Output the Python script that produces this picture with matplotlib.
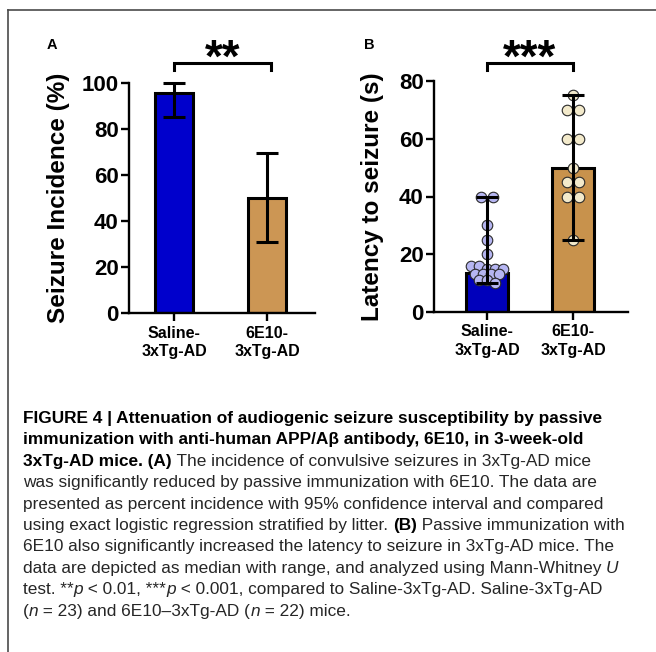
import matplotlib
matplotlib.use("Agg")
import matplotlib.pyplot as plt
from matplotlib.lines import Line2D
import numpy as np

W, H = 656, 652

# ---- data ----
groups = ["Saline-\n3xTg-AD", "6E10-\n3xTg-AD"]

incidence = [95.7, 50.0]          # % with seizures
incidence_lo = [85.2, 31.0]       # 95% CI lower
incidence_hi = [100.0, 69.5]      # 95% CI upper

latency_median = [13.5, 50.0]     # s
latency_saline = [40, 40, 30, 25, 20, 16, 16, 15, 15, 15, 13, 13, 13, 13, 11, 11, 10]
latency_6e10 = [75, 70, 70, 60, 60, 50, 45, 45, 40, 40, 25]

caption_lines = [
    [("FIGURE 4 | Attenuation of audiogenic seizure susceptibility by passive", "bold", "normal")],
    [("immunization with anti-human APP/Aβ antibody, 6E10, in 3-week-old", "bold", "normal")],
    [("3xTg-AD mice. (A)", "bold", "normal"),
     (" The incidence of convulsive seizures in 3xTg-AD mice", "normal", "normal")],
    [("was significantly reduced by passive immunization with 6E10. The data are", "normal", "normal")],
    [("presented as percent incidence with 95% confidence interval and compared", "normal", "normal")],
    [("using exact logistic regression stratified by litter. ", "normal", "normal"),
     ("(B)", "bold", "normal"), (" Passive immunization with", "normal", "normal")],
    [("6E10 also significantly increased the latency to seizure in 3xTg-AD mice. The", "normal", "normal")],
    [("data are depicted as median with range, and analyzed using Mann-Whitney ", "normal", "normal"),
     ("U", "normal", "italic")],
    [("test. **", "normal", "normal"), ("p", "normal", "italic"), (" < 0.01, ***", "normal", "normal"),
     ("p", "normal", "italic"), (" < 0.001, compared to Saline-3xTg-AD. Saline-3xTg-AD", "normal", "normal")],
    [("(", "normal", "normal"), ("n", "normal", "italic"), (" = 23) and 6E10–3xTg-AD (", "normal", "normal"),
     ("n", "normal", "italic"), (" = 22) mice.", "normal", "normal")],
]

BLUE_A, TAN_A = "#0000CC", "#CC9654"
BLUE_B, TAN_B = "#0000BB", "#C8924C"
DOT_SAL, DOT_6E = "#B6B6F2", "#F3EACB"

plt.rcParams["font.family"] = ["Liberation Sans", "DejaVu Sans"]
cap_font = "Liberation Sans"
cap_size = 12.4

fig = plt.figure(figsize=(W / 100, H / 100), dpi=100)

# frame lines of the figure box
fig.add_artist(Line2D([8 / W, 1], [1 - 10 / H] * 2, transform=fig.transFigure, color="#4a4a4a", lw=1.2))
fig.add_artist(Line2D([8 / W] * 2, [0, 1 - 10 / H], transform=fig.transFigure, color="#4a4a4a", lw=1.2))


def style_axes(ax):
    for s in ["top", "right"]:
        ax.spines[s].set_visible(False)
    for s in ["left", "bottom"]:
        ax.spines[s].set_linewidth(1.7)
    ax.tick_params(axis="y", direction="out", length=6, width=1.7, pad=1.5, labelsize=16)
    ax.tick_params(axis="x", direction="out", length=6, width=1.7, pad=3, labelsize=11.5)
    for lab in ax.get_yticklabels():
        lab.set_fontweight("bold")
    for lab in ax.get_xticklabels():
        lab.set_fontweight("bold")


# ---- panel A ----
axA = fig.add_axes([129 / W, 1 - 313 / H, 186 / W, 230 / H])
x = np.arange(len(groups))
axA.bar(x, incidence, width=0.40, color=[BLUE_A, TAN_A], edgecolor="black", linewidth=2.2, zorder=1)
yerr = [np.array(incidence) - np.array(incidence_lo), np.array(incidence_hi) - np.array(incidence)]
axA.errorbar(x, incidence, yerr=yerr, fmt="none", ecolor="black", elinewidth=2.2, capsize=8,
             capthick=2.2, zorder=3, clip_on=False)
axA.set_xlim(-0.484, 1.516)
axA.set_ylim(0, 100)
axA.set_yticks([0, 20, 40, 60, 80, 100])
axA.set_xticks(x)
axA.set_xticklabels(groups, linespacing=1.3)
style_axes(axA)
axA.text((58 - 129) / 186, 0.5, "Seizure Incidence (%)", transform=axA.transAxes, rotation=90,
         ha="center", va="center", fontsize=17.5, fontweight="bold")
axA.plot([0, 0, 1.04, 1.04], [105.6, 108.7, 108.7, 105.6], color="black", lw=2.2,
         clip_on=False, solid_joinstyle="miter")
axA.text(0.52, 104.9, "**", ha="center", va="baseline", fontsize=33, fontweight="bold")
fig.text(52 / W, 1 - 45 / H, "A", ha="center", va="center", fontsize=10.5, fontweight="bold")

# ---- panel B ----
axB = fig.add_axes([434 / W, 1 - 312 / H, 194 / W, 231 / H])
axB.bar(x, latency_median, width=0.49, color=[BLUE_B, TAN_B], edgecolor="black", linewidth=2.2, zorder=1)


def swarm_offsets(vals, row_tol=1.5, pair_gap=0.15, dense_gap=0.093):
    order = sorted(range(len(vals)), key=lambda i: -vals[i])
    rows, cur = [], [order[0]]
    for i in order[1:]:
        if vals[cur[0]] - vals[i] <= row_tol:
            cur.append(i)
        else:
            rows.append(cur)
            cur = [i]
    rows.append(cur)
    offs = np.zeros(len(vals))
    for r in rows:
        n = len(r)
        gap = pair_gap if n <= 2 else dense_gap
        for k, i in enumerate(r):
            offs[i] = (k - (n - 1) / 2) * gap
    return offs


for xi, vals, fc in [(0, latency_saline, DOT_SAL), (1, latency_6e10, DOT_6E)]:
    offs = swarm_offsets(vals)
    axB.plot(xi + offs, vals, "o", ms=7.6, mfc=fc, mec="#2a2a2a", mew=0.8, ls="none", zorder=2)
    lo, hi = min(vals), max(vals)
    med = latency_median[xi]
    axB.errorbar([xi], [med], yerr=[[med - lo], [hi - med]], fmt="none", ecolor="black",
                 elinewidth=2.2, capsize=8, capthick=2.2, zorder=3)

axB.set_xlim(-0.616, 1.64)
axB.set_ylim(0, 80)
axB.set_yticks([0, 20, 40, 60, 80])
axB.set_xticks(x)
axB.set_xticklabels(groups, linespacing=1.3)
style_axes(axB)
axB.text((372 - 434) / 194, 0.5, "Latency to seizure (s)", transform=axB.transAxes, rotation=90,
         ha="center", va="center", fontsize=17.5, fontweight="bold")
axB.plot([0, 0, 1, 1], [83.8, 86.2, 86.2, 83.8], color="black", lw=2.2,
         clip_on=False, solid_joinstyle="miter")
axB.text(0.5, 83.2, "***", ha="center", va="baseline", fontsize=33, fontweight="bold")
fig.text(369 / W, 1 - 45 / H, "B", ha="center", va="center", fontsize=10.5, fontweight="bold")

# ---- caption with mixed bold / italic runs ----
renderer = fig.canvas.get_renderer()


def run_width(s, weight, style):
    t1 = fig.text(0, 0, "x" + s + "x", family=cap_font, fontsize=cap_size, fontweight=weight, fontstyle=style)
    t2 = fig.text(0, 0, "xx", family=cap_font, fontsize=cap_size, fontweight=weight, fontstyle=style)
    w = t1.get_window_extent(renderer).width - t2.get_window_extent(renderer).width
    t1.remove()
    t2.remove()
    return w


base_y, step = 423, 21.4
for li, runs in enumerate(caption_lines):
    px = 23.0
    py = base_y + li * step
    for s, weight, style in runs:
        col = "black" if weight == "bold" else "#262626"
        fig.text(px / W, 1 - py / H, s, family=cap_font, fontsize=cap_size, fontweight=weight,
                 fontstyle=style, color=col, ha="left", va="baseline")
        px += run_width(s, weight, style)

fig.savefig("out.png", dpi=100)
